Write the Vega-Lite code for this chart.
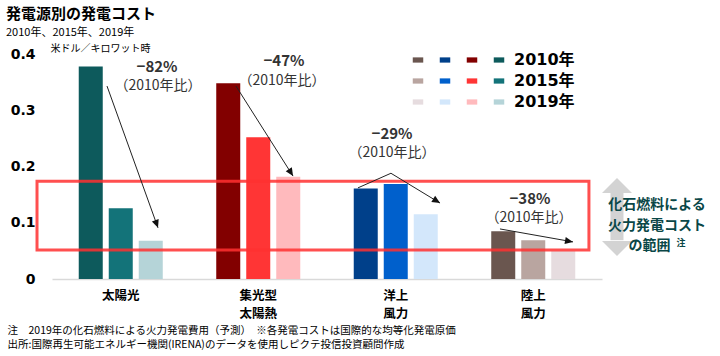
{
  "$schema": "https://vega.github.io/schema/vega-lite/v6.json",
  "width": 550,
  "height": 225,
  "autosize": {"type": "none"},
  "padding": {"left": 52, "top": 54, "right": 118, "bottom": 77},
  "background": "white",
  "config": {"view": {"stroke": null}, "font": "Noto Sans CJK JP"},
  "title": {
    "text": "発電源別の発電コスト",
    "subtitle": "2010年、2015年、2019年",
    "anchor": "start",
    "frame": "group",
    "dx": -46,
    "offset": 5,
    "fontSize": 15,
    "fontWeight": "bold",
    "color": "#000000",
    "subtitleFontSize": 11,
    "subtitleColor": "#000000",
    "subtitlePadding": 5
  },
  "datasets": {
    "bars": [
      {"source": "太陽光", "year": "2010年", "series": "太陽光 2010年", "value": 0.378},
      {"source": "太陽光", "year": "2015年", "series": "太陽光 2015年", "value": 0.126},
      {"source": "太陽光", "year": "2019年", "series": "太陽光 2019年", "value": 0.068},
      {"source": "集光型 太陽熱", "year": "2010年", "series": "集光型太陽熱 2010年", "value": 0.348},
      {"source": "集光型 太陽熱", "year": "2015年", "series": "集光型太陽熱 2015年", "value": 0.252},
      {"source": "集光型 太陽熱", "year": "2019年", "series": "集光型太陽熱 2019年", "value": 0.182},
      {"source": "洋上 風力", "year": "2010年", "series": "洋上風力 2010年", "value": 0.161},
      {"source": "洋上 風力", "year": "2015年", "series": "洋上風力 2015年", "value": 0.169},
      {"source": "洋上 風力", "year": "2019年", "series": "洋上風力 2019年", "value": 0.115},
      {"source": "陸上 風力", "year": "2010年", "series": "陸上風力 2010年", "value": 0.085},
      {"source": "陸上 風力", "year": "2015年", "series": "陸上風力 2015年", "value": 0.069},
      {"source": "陸上 風力", "year": "2019年", "series": "陸上風力 2019年", "value": 0.05}
    ],
    "arrows": [
      {"arrow": "太陽光", "step": 1, "ax": 0.40, "value": 0.343},
      {"arrow": "太陽光", "step": 2, "ax": 0.771, "value": 0.091},
      {"arrow": "集光型太陽熱", "step": 1, "ax": 1.338, "value": 0.343},
      {"arrow": "集光型太陽熱", "step": 2, "ax": 1.753, "value": 0.183},
      {"arrow": "洋上風力", "step": 1, "ax": 2.225, "value": 0.162},
      {"arrow": "洋上風力", "step": 2, "ax": 2.465, "value": 0.188},
      {"arrow": "洋上風力", "step": 3, "ax": 2.822, "value": 0.135},
      {"arrow": "陸上風力", "step": 1, "ax": 3.258, "value": 0.089},
      {"arrow": "陸上風力", "step": 2, "ax": 3.789, "value": 0.066}
    ],
    "heads": [
      {"arrow": "太陽光", "ax": 0.771, "value": 0.091, "deg": 160},
      {"arrow": "集光型太陽熱", "ax": 1.753, "value": 0.183, "deg": 148},
      {"arrow": "洋上風力", "ax": 2.822, "value": 0.135, "deg": 122},
      {"arrow": "陸上風力", "ax": 3.789, "value": 0.066, "deg": 100}
    ],
    "pct": [
      {"ax": 0.764, "value": 0.377, "t": "−82%"},
      {"ax": 1.687, "value": 0.388, "t": "−47%"},
      {"ax": 2.473, "value": 0.258, "t": "−29%"},
      {"ax": 3.476, "value": 0.142, "t": "−38%"}
    ],
    "ratio": [
      {"ax": 0.771, "value": 0.343, "t": "（2010年比）"},
      {"ax": 1.673, "value": 0.352, "t": "（2010年比）"},
      {"ax": 2.473, "value": 0.224, "t": "（2010年比）"},
      {"ax": 3.469, "value": 0.108, "t": "（2010年比）"}
    ],
    "box": [{"ax": -0.109, "ax2": 3.905, "value": 0.0516, "value2": 0.174}],
    "shaft": [{"ax": 4.109, "value": 0.153, "value2": 0.069}],
    "tips": [
      {"ax": 4.109, "value": 0.1662, "dir": "up"},
      {"ax": 4.109, "value": 0.0542, "dir": "down"}
    ],
    "side": [
      {"ax": 4.4, "value": 0.1316, "t": "化石燃料による"},
      {"ax": 4.4, "value": 0.0951, "t": "火力発電コスト"},
      {"ax": 4.345, "value": 0.0587, "t": "の範囲"}
    ],
    "sup": [{"ax": 4.575, "value": 0.064, "t": "注"}]
  },
  "resolve": {"scale": {"x": "independent"}, "axis": {"x": "independent"}},
  "layer": [
    {
      "data": {"name": "bars"},
      "mark": {"type": "bar"},
      "encoding": {
        "x": {
          "field": "source",
          "type": "nominal",
          "sort": ["太陽光", "集光型 太陽熱", "洋上 風力", "陸上 風力"],
          "scale": {"paddingInner": 0.389, "paddingOuter": 0.1945},
          "axis": {
            "labelExpr": "split(datum.label, ' ')",
            "labelAngle": 0,
            "ticks": false,
            "domain": true,
            "domainColor": "#D9D9D9",
            "domainWidth": 1.5,
            "labelFontSize": 12.5,
            "labelFontWeight": "bold",
            "labelColor": "#000000",
            "labelPadding": 10,
            "labelLineHeight": 18,
            "labelBaseline": "top",
            "title": [
              "注　2019年の化石燃料による火力発電費用（予測）　※各発電コストは国際的な均等化発電原価",
              "出所:国際再生可能エネルギー機関(IRENA)のデータを使用しピクテ投信投資顧問作成"
            ],
            "titleX": -45,
            "titleY": 46,
            "titleAlign": "left",
            "titleAnchor": "start",
            "titleBaseline": "top",
            "titleFontSize": 10.5,
            "titleFontWeight": "normal",
            "titleLineHeight": 14,
            "titleColor": "#000000"
          }
        },
        "xOffset": {
          "field": "year",
          "type": "nominal",
          "sort": ["2010年", "2015年", "2019年"],
          "scale": {"paddingInner": 0.2, "paddingOuter": 0}
        },
        "y": {
          "field": "value",
          "type": "quantitative",
          "scale": {"domain": [0, 0.4], "nice": false},
          "axis": {
            "values": [0, 0.1, 0.2, 0.3, 0.4],
            "labelExpr": "datum.value == 0 ? '0' : format(datum.value, '.1f')",
            "domain": false,
            "ticks": false,
            "grid": false,
            "labelFont": "DejaVu Sans",
            "labelFontWeight": "bold",
            "labelFontSize": 14,
            "labelColor": "#000000",
            "labelPadding": 17,
            "title": "米ドル／キロワット時",
            "titleAngle": 0,
            "titleAlign": "left",
            "titleBaseline": "middle",
            "titleX": -2,
            "titleY": -6,
            "titleFontSize": 10,
            "titleFontWeight": "normal",
            "titleColor": "#000000"
          }
        },
        "color": {
          "field": "series",
          "type": "nominal",
          "scale": {
            "domain": [
              "陸上風力 2010年", "洋上風力 2010年", "集光型太陽熱 2010年", "太陽光 2010年",
              "陸上風力 2015年", "洋上風力 2015年", "集光型太陽熱 2015年", "太陽光 2015年",
              "陸上風力 2019年", "洋上風力 2019年", "集光型太陽熱 2019年", "太陽光 2019年"
            ],
            "range": [
              "#6A564F", "#00408A", "#820000", "#0D5A5C",
              "#B9A5A0", "#0060CC", "#FF3535", "#137379",
              "#E6DCDF", "#D3E7FB", "#FFBABD", "#B5D4D8"
            ]
          },
          "legend": {
            "orient": "none",
            "legendX": 358,
            "legendY": -2,
            "title": null,
            "columns": 4,
            "direction": "horizontal",
            "symbolType": "M-1,-0.5H1V0.5H-1Z",
            "symbolSize": 110,
            "symbolStrokeWidth": 0,
            "symbolOpacity": 1,
            "labelOffset": 7,
            "columnPadding": 4,
            "rowPadding": 5,
            "gridAlign": "each",
            "labelFont": "DejaVu Sans, Noto Sans CJK JP",
            "labelFontSize": 16,
            "labelFontWeight": "bold",
            "labelColor": "#000000",
            "labelLimit": 0,
            "labelExpr": "indexof(datum.label, '太陽光') == 0 ? substring(datum.label, 4) : ''"
          }
        }
      }
    },
    {
      "data": {"name": "box"},
      "mark": {"type": "rect", "fillOpacity": 0, "stroke": "#FF3030", "strokeWidth": 3, "strokeOpacity": 0.85},
      "encoding": {
        "x": {"field": "ax", "type": "quantitative", "scale": {"domain": [0, 4], "nice": false, "zero": false}, "axis": null},
        "x2": {"field": "ax2"},
        "y": {"field": "value", "type": "quantitative", "scale": {"domain": [0, 0.4], "nice": false}},
        "y2": {"field": "value2"}
      }
    },
    {
      "data": {"name": "arrows"},
      "mark": {"type": "line", "color": "#222222", "strokeWidth": 1},
      "encoding": {
        "x": {"field": "ax", "type": "quantitative", "scale": {"domain": [0, 4], "nice": false, "zero": false}, "axis": null},
        "y": {"field": "value", "type": "quantitative", "scale": {"domain": [0, 0.4], "nice": false}},
        "detail": {"field": "arrow", "type": "nominal"},
        "order": {"field": "step", "type": "quantitative"}
      }
    },
    {
      "data": {"name": "heads"},
      "mark": {"type": "point", "shape": "M0,0L0.45,1L-0.45,1Z", "filled": true, "color": "#111111", "size": 256, "opacity": 1, "strokeWidth": 0},
      "encoding": {
        "x": {"field": "ax", "type": "quantitative", "scale": {"domain": [0, 4], "nice": false, "zero": false}, "axis": null},
        "y": {"field": "value", "type": "quantitative", "scale": {"domain": [0, 0.4], "nice": false}},
        "angle": {"field": "deg", "type": "quantitative", "scale": null, "legend": null}
      }
    },
    {
      "data": {"name": "pct"},
      "mark": {"type": "text", "fontSize": 15, "fontWeight": "bold", "color": "#333333", "baseline": "middle", "align": "center"},
      "encoding": {
        "x": {"field": "ax", "type": "quantitative", "scale": {"domain": [0, 4], "nice": false, "zero": false}, "axis": null},
        "y": {"field": "value", "type": "quantitative", "scale": {"domain": [0, 0.4], "nice": false}},
        "text": {"field": "t", "type": "nominal"}
      }
    },
    {
      "data": {"name": "ratio"},
      "mark": {"type": "text", "fontSize": 14, "color": "#333333", "baseline": "middle", "align": "center"},
      "encoding": {
        "x": {"field": "ax", "type": "quantitative", "scale": {"domain": [0, 4], "nice": false, "zero": false}, "axis": null},
        "y": {"field": "value", "type": "quantitative", "scale": {"domain": [0, 0.4], "nice": false}},
        "text": {"field": "t", "type": "nominal"}
      }
    },
    {
      "data": {"name": "shaft"},
      "mark": {"type": "rule", "color": "#D3D3D3", "strokeWidth": 13},
      "encoding": {
        "x": {"field": "ax", "type": "quantitative", "scale": {"domain": [0, 4], "nice": false, "zero": false}, "axis": null},
        "y": {"field": "value", "type": "quantitative", "scale": {"domain": [0, 0.4], "nice": false}},
        "y2": {"field": "value2"}
      }
    },
    {
      "data": {"name": "tips"},
      "mark": {"type": "point", "filled": true, "color": "#D3D3D3", "size": 900, "opacity": 1, "strokeWidth": 0},
      "encoding": {
        "x": {"field": "ax", "type": "quantitative", "scale": {"domain": [0, 4], "nice": false, "zero": false}, "axis": null},
        "y": {"field": "value", "type": "quantitative", "scale": {"domain": [0, 0.4], "nice": false}},
        "shape": {"field": "dir", "type": "nominal", "scale": {"domain": ["up", "down"], "range": ["M-1,0.5L0,-0.5L1,0.5Z", "M-1,-0.5L0,0.5L1,-0.5Z"]}, "legend": null}
      }
    },
    {
      "data": {"name": "side"},
      "mark": {"type": "text", "fontSize": 14, "fontWeight": "bold", "color": "#0A4747", "baseline": "middle", "align": "center"},
      "encoding": {
        "x": {"field": "ax", "type": "quantitative", "scale": {"domain": [0, 4], "nice": false, "zero": false}, "axis": null},
        "y": {"field": "value", "type": "quantitative", "scale": {"domain": [0, 0.4], "nice": false}},
        "text": {"field": "t", "type": "nominal"}
      }
    },
    {
      "data": {"name": "sup"},
      "mark": {"type": "text", "fontSize": 9, "fontWeight": "bold", "color": "#0A4747", "baseline": "middle", "align": "center"},
      "encoding": {
        "x": {"field": "ax", "type": "quantitative", "scale": {"domain": [0, 4], "nice": false, "zero": false}, "axis": null},
        "y": {"field": "value", "type": "quantitative", "scale": {"domain": [0, 0.4], "nice": false}},
        "text": {"field": "t", "type": "nominal"}
      }
    }
  ]
}
